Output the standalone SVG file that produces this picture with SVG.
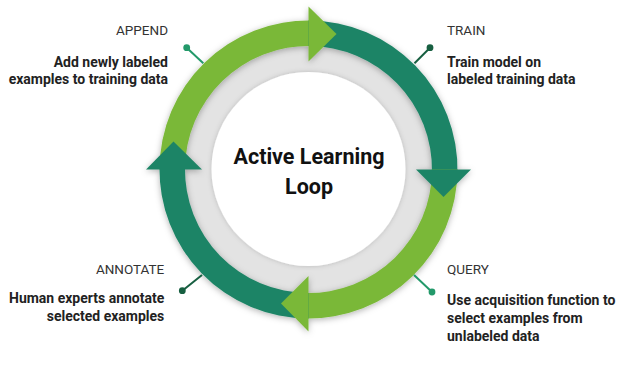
<svg xmlns="http://www.w3.org/2000/svg" width="636" height="373" viewBox="0 0 636 373">
  <defs>
    <filter id="ringShadow" x="-20%" y="-20%" width="140%" height="140%">
      <feDropShadow dx="0" dy="1.5" stdDeviation="3" flood-color="#000" flood-opacity="0.3"/>
    </filter>
    <filter id="innerShadow" x="-20%" y="-20%" width="140%" height="140%">
      <feDropShadow dx="0" dy="0" stdDeviation="2.5" flood-color="#000" flood-opacity="0.18"/>
    </filter>
  </defs>
  <style>
    .light { fill: #7AB839; }
    .dark { fill: #1E8466; }
    .lbl { font-family: Roboto, "Liberation Sans", sans-serif; font-size: 13.5px; fill: #333333; }
    .desc { font-family: Roboto, "Liberation Sans", sans-serif; font-size: 14px; font-weight: 700; fill: #222222; }
    .title { font-family: Roboto, "Liberation Sans", sans-serif; font-size: 21.5px; font-weight: 700; fill: #111111; text-anchor: middle; }
    .lead { stroke-width: 2; fill: none; }
    .ll { stroke: #23996A; }
    .ld { stroke: #175F41; }
    .dl { fill: #23996A; }
    .dd { fill: #175F41; }
  </style>
  <rect width="636" height="373" fill="#FFFFFF"/>

  <!-- grey ring and white centre -->
  <circle cx="308.5" cy="169.5" r="125" fill="#E3E3E3"/>
  <circle cx="308.5" cy="169" r="97" fill="#FFFFFF" filter="url(#innerShadow)"/>

  <!-- cycle arrows (connectors) -->
  <g id="connectors" filter="url(#ringShadow)">
    <path class="light" d="M159.5,169.5 A149,149 0 0 1 312.4,20.55 L311.73,46.04 A123.5,123.5 0 0 0 185,169.5 Z"/>
    <path class="dark" d="M308.5,20.5 A149,149 0 0 1 457.45,173.4 L431.96,172.73 A123.5,123.5 0 0 0 308.5,46 Z"/>
    <path class="light" d="M457.5,169.5 A149,149 0 0 1 304.6,318.45 L305.27,292.96 A123.5,123.5 0 0 0 432,169.5 Z"/>
    <path class="dark" d="M308.5,318.5 A149,149 0 0 1 159.55,165.6 L185.04,166.27 A123.5,123.5 0 0 0 308.5,293 Z"/>
    <polygon class="light" points="308.5,6.5 336.5,34 308.5,61.5"/>
    <polygon class="dark" points="471,169.5 443.5,197 416,169.5"/>
    <polygon class="light" points="308.5,331.5 281,303.5 308.5,276"/>
    <polygon class="dark" points="146,169.5 173.5,141.5 202,169.5"/>
  </g>

  <g id="title">
    <text class="title" x="309" y="164">Active Learning</text>
    <text class="title" x="309" y="193.5">Loop</text>
  </g>

  <g id="append">
    <line class="lead ll" x1="203.3" y1="63.3" x2="186.7" y2="47.7"/>
    <circle class="dl" cx="186.7" cy="47.7" r="3.4"/>
    <text class="lbl" x="168" y="34.5" text-anchor="end">APPEND</text>
    <text class="desc" x="168" y="66.5" text-anchor="end">Add newly labeled</text>
    <text class="desc" x="168" y="83.5" text-anchor="end">examples to training data</text>
  </g>

  <g id="train">
    <line class="lead ld" x1="414.5" y1="63.3" x2="430" y2="47.7"/>
    <circle class="dd" cx="430" cy="47.7" r="3.4"/>
    <text class="lbl" x="447" y="34.5">TRAIN</text>
    <text class="desc" x="447" y="66.5">Train model on</text>
    <text class="desc" x="447" y="83.5">labeled training data</text>
  </g>

  <g id="query">
    <line class="lead ll" x1="414" y1="275" x2="432" y2="292"/>
    <circle class="dl" cx="432" cy="292" r="3.4"/>
    <text class="lbl" x="447" y="273.5">QUERY</text>
    <text class="desc" x="447" y="305">Use acquisition function to</text>
    <text class="desc" x="447" y="323">select examples from</text>
    <text class="desc" x="447" y="341">unlabeled data</text>
  </g>

  <g id="annotate">
    <line class="lead ld" x1="202" y1="275" x2="182.3" y2="290.7"/>
    <circle class="dd" cx="182.3" cy="290.7" r="3.4"/>
    <text class="lbl" x="164.3" y="273.5" text-anchor="end">ANNOTATE</text>
    <text class="desc" x="164.3" y="303" text-anchor="end">Human experts annotate</text>
    <text class="desc" x="164.3" y="320.5" text-anchor="end">selected examples</text>
  </g>
</svg>
